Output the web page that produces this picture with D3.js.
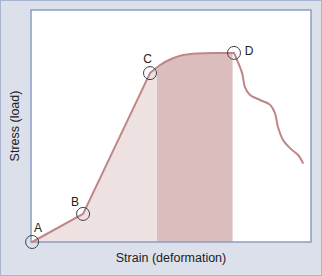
<!DOCTYPE html>
<script src="https://cdn.jsdelivr.net/npm/d3@7"></script>
<html>
    <body style="margin:0">
        <div id="chart-div"></div>
        <script>
            // curve values (strain %, stress %)
            const riseStrain = [0.4, 18.6, 42.5];
            const riseStress = [0, 12.1, 72.8];
            const yieldStrain = [42.5, 46.1, 50.7, 54.3, 59.3, 65, 72.5];
            const yieldStress = [72.8, 76.3, 79.2, 80.6, 81.3, 81.5, 81.5];
            const failStrain = [72.5, 73.6, 75.4, 76.4, 78.2, 81.8, 85.4, 87.1, 88.2, 90, 93.2, 95.4, 97.1];
            const failStress = [81.5, 78.4, 72.8, 66.8, 63.4, 61.2, 59.1, 55.6, 49.6, 44, 39.7, 37.5, 34.1];

            // marked points
            const pointNames = ["A", "B", "C", "D"];
            const pointStrain = [0.4, 18.6, 42.5, 72.5];
            const pointStress = [0, 12.1, 72.8, 81.5];

            // shaded regions
            const regionStart = [0, 45];
            const regionEnd = [45, 72];
            const regionColors = ["#ede2e1", "#dcbdbe"];

            const width = 322, height = 276;
            const margin = { top: 10, right: 11, bottom: 34, left: 31 };

            const svg = d3.select("#chart-div")
                .append("svg")
                .attr("width", width)
                .attr("height", height)
                .style("font-family", "'Liberation Sans', Arial, sans-serif");

            // outer background
            svg.append("rect")
                .attr("x", 0.5).attr("y", 0.5)
                .attr("width", width - 1).attr("height", height - 1)
                .attr("fill", "#dce0eb")
                .attr("stroke", "#a8b4d0");

            const x = d3.scaleLinear()
                .domain([0, 100])
                .range([margin.left, width - margin.right]);
            const y = d3.scaleLinear()
                .domain([0, 100])
                .range([height - margin.bottom, margin.top]);

            svg.append("rect")
                .attr("x", x(0)).attr("y", y(100))
                .attr("width", x(100) - x(0)).attr("height", y(0) - y(100))
                .attr("fill", "#fff");

            const zip = (xs, ys) => xs.map((v, i) => [v, ys[i]]);
            const rise = zip(riseStrain, riseStress);
            const yieldPart = zip(yieldStrain, yieldStress);
            const fail = zip(failStrain, failStress);

            const lineLin = d3.line().x(d => x(d[0])).y(d => y(d[1]));
            const lineSmooth = d3.line().x(d => x(d[0])).y(d => y(d[1])).curve(d3.curveMonotoneX);
            const lineWave = d3.line().x(d => x(d[0])).y(d => y(d[1])).curve(d3.curveCatmullRom.alpha(0.5));

            // area under curve up to D, used as clip
            const last = yieldPart[yieldPart.length - 1];
            const areaPath = lineLin(rise) + lineSmooth(yieldPart).replace(/^M/, "L")
                + "L" + x(last[0]) + "," + y(0) + "L" + x(rise[0][0]) + "," + y(0) + "Z";

            svg.append("clipPath").attr("id", "under")
                .append("path").attr("d", areaPath);

            svg.append("g").attr("clip-path", "url(#under)")
                .selectAll("rect")
                .data(regionStart)
                .enter()
                .append("rect")
                .attr("x", (d, i) => x(regionStart[i]))
                .attr("width", (d, i) => x(regionEnd[i]) - x(regionStart[i]))
                .attr("y", y(100))
                .attr("height", y(0) - y(100))
                .attr("fill", (d, i) => regionColors[i]);

            // frame
            svg.append("rect")
                .attr("x", x(0)).attr("y", y(100))
                .attr("width", x(100) - x(0)).attr("height", y(0) - y(100))
                .attr("fill", "none")
                .attr("stroke", "#8c9cc2")
                .attr("stroke-width", 1.5);

            // stress-strain curve
            const curveColor = "#c08585";
            [lineLin(rise), lineSmooth(yieldPart), lineWave(fail)].forEach(d => {
                svg.append("path")
                    .attr("d", d)
                    .attr("fill", "none")
                    .attr("stroke", curveColor)
                    .attr("stroke-width", 2)
                    .attr("stroke-linejoin", "round")
                    .attr("stroke-linecap", "round");
            });

            // circled points
            svg.selectAll("circle.pt")
                .data(pointNames)
                .enter()
                .append("circle")
                .attr("class", "pt")
                .attr("cx", (d, i) => x(pointStrain[i]))
                .attr("cy", (d, i) => y(pointStress[i]))
                .attr("r", 6.5)
                .attr("fill", "none")
                .attr("stroke", "#3a4050")
                .attr("stroke-width", 1);

            const labelDx = [6, -8, -2.5, 15];
            const labelDy = [-10, -8, -10, 2];
            svg.selectAll("text.pt")
                .data(pointNames)
                .enter()
                .append("text")
                .attr("class", "pt")
                .attr("x", (d, i) => x(pointStrain[i]) + labelDx[i])
                .attr("y", (d, i) => y(pointStress[i]) + labelDy[i])
                .attr("text-anchor", "middle")
                .attr("font-size", 12)
                .attr("fill", "#222")
                .text(d => d);

            // axis titles
            svg.append("text")
                .attr("x", (x(0) + x(100)) / 2)
                .attr("y", 262)
                .attr("text-anchor", "middle")
                .attr("font-size", 12.5)
                .attr("fill", "#222")
                .text("Strain (deformation)");

            svg.append("text")
                .attr("transform", "translate(19," + ((y(0) + y(100)) / 2) + ") rotate(-90)")
                .attr("text-anchor", "middle")
                .attr("font-size", 12.5)
                .attr("fill", "#222")
                .text("Stress (load)");
        </script>
    </body>
</html>
